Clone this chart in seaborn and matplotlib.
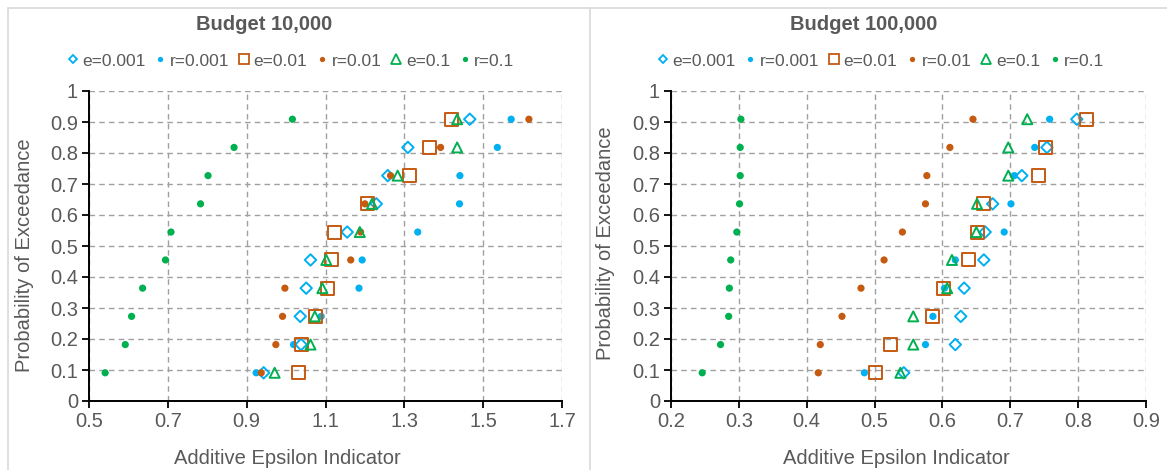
import numpy as np
import matplotlib
matplotlib.use('Agg')
import matplotlib.pyplot as plt
from matplotlib.lines import Line2D
from matplotlib.ticker import FuncFormatter
import seaborn as sns

# probability levels (plotting positions)
prob = [0.091, 0.182, 0.273, 0.364, 0.455, 0.545, 0.636, 0.727, 0.818, 0.909]

series_names = ['e=0.001', 'r=0.001', 'e=0.01', 'r=0.01', 'e=0.1', 'r=0.1']

# Budget 10,000
e001_10k = [0.943, 1.038, 1.036, 1.051, 1.062, 1.155, 1.229, 1.258, 1.309, 1.466]
r001_10k = [0.924, 1.019, 1.089, 1.185, 1.193, 1.334, 1.440, 1.441, 1.536, 1.571]
e01_10k = [1.032, 1.039, 1.075, 1.106, 1.115, 1.124, 1.207, 1.313, 1.365, 1.419]
r01_10k = [0.937, 0.974, 0.991, 0.997, 1.164, 1.189, 1.200, 1.265, 1.392, 1.616]
e1_10k = [0.971, 1.062, 1.073, 1.092, 1.102, 1.187, 1.218, 1.283, 1.434, 1.434]
r1_10k = [0.541, 0.592, 0.608, 0.636, 0.694, 0.708, 0.783, 0.802, 0.868, 1.016]

# Budget 100,000
e001_100k = [0.543, 0.619, 0.627, 0.632, 0.661, 0.663, 0.674, 0.717, 0.754, 0.798]
r001_100k = [0.485, 0.575, 0.586, 0.603, 0.619, 0.691, 0.701, 0.706, 0.736, 0.758]
e01_100k = [0.502, 0.524, 0.585, 0.601, 0.639, 0.651, 0.661, 0.741, 0.752, 0.813]
r01_100k = [0.417, 0.420, 0.452, 0.480, 0.514, 0.541, 0.575, 0.577, 0.611, 0.645]
e1_100k = [0.538, 0.557, 0.557, 0.607, 0.614, 0.650, 0.651, 0.697, 0.697, 0.725]
r1_100k = [0.246, 0.273, 0.285, 0.286, 0.288, 0.297, 0.301, 0.302, 0.302, 0.303]

xticks_10k = [0.5, 0.7, 0.9, 1.1, 1.3, 1.5, 1.7]
xticks_100k = [0.2, 0.3, 0.4, 0.5, 0.6, 0.7, 0.8, 0.9]
yticks = [0, 0.1, 0.2, 0.3, 0.4, 0.5, 0.6, 0.7, 0.8, 0.9, 1]

BLUE = '#00B0F0'
ORANGE = '#C55A11'
GREEN = '#00B050'
TXT = '#595959'

# marker, colour, hollow?, scatter size, legend markersize
styles = [
    ('D', BLUE, True, 34, 4.3),
    ('o', BLUE, False, 27, 3.8),
    ('s', ORANGE, True, 88, 6.5),
    ('o', ORANGE, False, 27, 3.8),
    ('^', GREEN, True, 52, 6.5),
    ('o', GREEN, False, 27, 3.8),
]

sns.set_theme(style='white')
plt.rcParams['font.family'] = ['Liberation Sans', 'DejaVu Sans']
plt.rcParams['text.color'] = TXT

fig = plt.figure(figsize=(11.67, 4.70), dpi=100)
ax1 = fig.add_axes([89 / 1167, 69 / 470, 473 / 1167, 310 / 470])
ax2 = fig.add_axes([671 / 1167, 69 / 470, 475 / 1167, 310 / 470])

# chart-area borders
for xs, ys in [([8, 8], [0, 462]), ([590, 590], [0, 462]), ([8, 1167], [462, 462])]:
    fig.add_artist(Line2D(np.array(xs) / 1167, np.array(ys) / 470, color='#D9D9D9', lw=1.2))

panels = [
    (ax1, [e001_10k, r001_10k, e01_10k, r01_10k, e1_10k, r1_10k], xticks_10k, 'Budget 10,000', 264, 0.427, 0.419, 0.47),
    (ax2, [e001_100k, r001_100k, e01_100k, r01_100k, e1_100k, r1_100k], xticks_100k, 'Budget 100,000', 864, 0.442, 0.474, 0.51),
]

for ax, data, xt, title, tx, legx, xlabx, ylaby in panels:
    for vals, (mk, col, hollow, s, _) in zip(data, styles):
        if hollow:
            sns.scatterplot(x=vals, y=prob, ax=ax, marker=mk, s=s, facecolor='none',
                            edgecolor=col, linewidth=1.4, zorder=3)
        else:
            sns.scatterplot(x=vals, y=prob, ax=ax, marker=mk, s=s, color=col,
                            edgecolor='none', linewidth=0, zorder=3)

    ax.set_xlim(xt[0], xt[-1])
    ax.set_ylim(0, 1)
    ax.set_xticks(xt)
    ax.set_yticks(yticks)
    ax.xaxis.set_major_formatter(FuncFormatter(lambda v, _: f'{v:g}'))
    ax.yaxis.set_major_formatter(FuncFormatter(lambda v, _: f'{v:g}'))
    ax.grid(True, linestyle=(0, (4, 3)), color='#A0A0A0', lw=1.0, zorder=0)
    ax.set_axisbelow(True)
    for side in ['top', 'right']:
        ax.spines[side].set_visible(False)
    for side in ['left', 'bottom']:
        ax.spines[side].set_color('black')
        ax.spines[side].set_linewidth(1.4)
    ax.tick_params(axis='both', direction='out', length=5, width=1.3, color='black',
                   labelsize=14.5, labelcolor=TXT, pad=3, left=True, bottom=True)

    ax.set_xlabel('Additive Epsilon Indicator', fontsize=14.5, color=TXT)
    ax.set_ylabel('Probability of Exceedance', fontsize=14.5, color=TXT)
    ax.xaxis.set_label_coords(xlabx, -0.155)
    ax.yaxis.set_label_coords(-0.117, ylaby)

    fig.text(tx / 1167, 1 - 25 / 470, title, ha='center', va='center',
             fontsize=14.5, fontweight='bold', color=TXT)

    handles = []
    for name, (mk, col, hollow, s, ms) in zip(series_names, styles):
        handles.append(Line2D([], [], linestyle='none', marker=mk, markersize=ms,
                              markerfacecolor='none' if hollow else col,
                              markeredgecolor=col, markeredgewidth=1.3 if hollow else 0,
                              label=name))
    ax.legend(handles=handles, ncol=6, loc='center', bbox_to_anchor=(legx, 1.097),
              frameon=False, fontsize=12.5, handlelength=0.6, handletextpad=0.25,
              columnspacing=0.55, labelcolor=TXT, borderaxespad=0)

fig.savefig('out.png', dpi=100)
